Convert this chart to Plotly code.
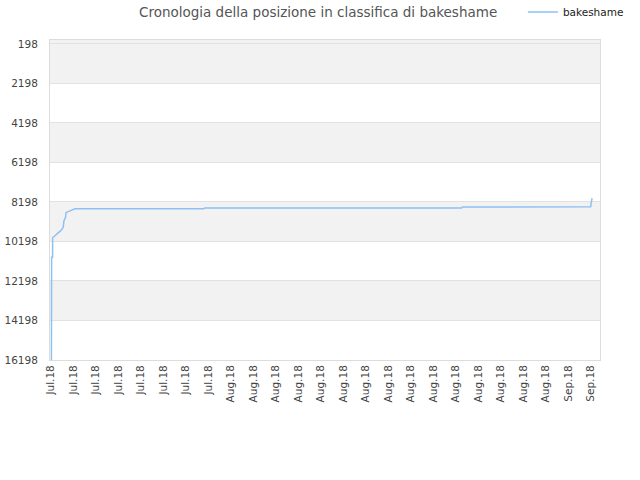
import plotly.graph_objects as go

# dati
times = [
    "2018-07-17 01:00", "2018-07-17 01:30", "2018-07-17 03:30", "2018-07-17 03:40",
    "2018-07-17 15:30", "2018-07-17 22:50", "2018-07-18 02:10", "2018-07-18 03:40",
    "2018-07-18 07:20", "2018-07-18 08:00", "2018-07-18 16:30", "2018-07-19 03:10",
    "2018-07-30 14:00", "2018-07-30 16:00", "2018-08-22 12:00", "2018-08-22 14:00",
    "2018-09-02 23:00", "2018-09-03 02:00",
]
ranks = [
    16198, 10990, 10990, 10010,
    9760, 9610, 9480, 9160,
    8960, 8740, 8650, 8540,
    8540, 8500, 8500, 8450,
    8440, 8000,
]

tick_dates = [
    "2018-07-17", "2018-07-19", "2018-07-21", "2018-07-23", "2018-07-25",
    "2018-07-27", "2018-07-29", "2018-07-31", "2018-08-02", "2018-08-04",
    "2018-08-06", "2018-08-08", "2018-08-10", "2018-08-12", "2018-08-14",
    "2018-08-16", "2018-08-18", "2018-08-20", "2018-08-22", "2018-08-24",
    "2018-08-26", "2018-08-28", "2018-08-30", "2018-09-01", "2018-09-03",
]
tick_labels = ["Jul.18"] * 8 + ["Aug.18"] * 15 + ["Sep.18"] * 2
y_ticks = [198, 2198, 4198, 6198, 8198, 10198, 12198, 14198, 16198]

fig = go.Figure()
fig.add_trace(go.Scatter(
    x=times, y=ranks, mode="lines", name="bakeshame",
    line=dict(color="#8fc0f2", width=1.5),
))

# bande alternate grigie
y_top = -2
for i in range(0, len(y_ticks) - 1, 2):
    lo = y_top if i == 0 else y_ticks[i]
    fig.add_shape(type="rect", xref="paper", yref="y",
                  x0=0, x1=1, y0=lo, y1=y_ticks[i + 1],
                  fillcolor="#f2f2f2", line_width=0, layer="below")

fig.update_layout(
    width=640, height=480,
    margin=dict(l=50, r=40, t=40, b=120, autoexpand=False),
    paper_bgcolor="white", plot_bgcolor="white",
    font=dict(family="DejaVu Sans", size=10.5, color="#444"),
    title=dict(text="Cronologia della posizione in classifica di bakeshame",
               x=0.497, xanchor="center", y=0.975, yanchor="middle",
               font=dict(size=13.5, color="#555")),
    showlegend=True,
    legend=dict(orientation="h", xref="container", x=0.817, xanchor="left",
                yref="container", y=0.975, yanchor="middle",
                font=dict(size=10.5, color="#222"), bgcolor="rgba(0,0,0,0)"),
)
fig.update_xaxes(
    range=["2018-07-16 22:00", "2018-09-03 19:00"],
    tickmode="array", tickvals=tick_dates, ticktext=tick_labels,
    tickangle=-90, showgrid=False, zeroline=False, automargin=False,
    showline=True, linecolor="#dcdcdc", mirror=True,
    ticks="", tickfont=dict(size=10.5, color="#444"),
)
fig.update_yaxes(
    range=[16198, y_top], tickmode="array", tickvals=y_ticks,
    ticktext=[str(v) for v in y_ticks], automargin=False,
    showgrid=True, gridcolor="#e2e2e2", zeroline=False,
    showline=True, linecolor="#dcdcdc", mirror=True,
    ticks="", ticklabelstandoff=9, tickfont=dict(size=10.5, color="#444"),
)

# niente margine del body, così il grafico parte da 0,0
fig.write_html("out.html", config={"displayModeBar": False},
               post_script="document.body.style.margin='0px';")
